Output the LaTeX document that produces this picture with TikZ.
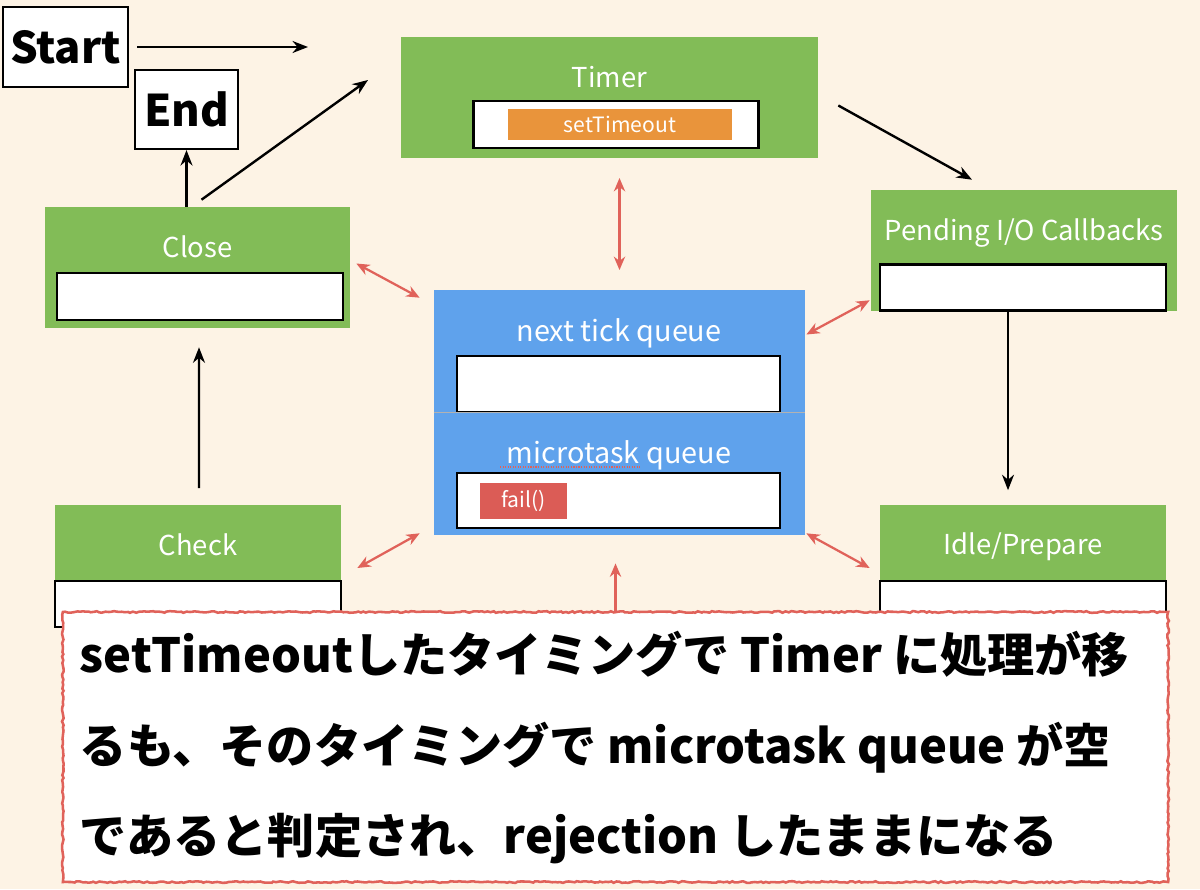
\documentclass[tikz,border=0pt]{standalone}
\usepackage{fontspec}
\setmainfont{Noto Sans CJK JP}
\usepackage{tikz}
\usetikzlibrary{arrows.meta,calc,decorations.pathmorphing}

\definecolor{cream}{HTML}{FDF3E5}
\definecolor{phasegreen}{HTML}{82BC57}
\definecolor{queueblue}{HTML}{5FA2EC}
\definecolor{taskorange}{HTML}{E9943B}
\definecolor{failred}{HTML}{DB5C56}
\definecolor{linkred}{HTML}{E0625A}

\begin{document}
\begin{tikzpicture}[x=0.025cm, y=-0.025cm, >={Stealth[length=11pt,width=8.5pt]},
  phase/.style={fill=phasegreen, minimum height=3.025cm, inner sep=0pt},
  queue/.style={fill=queueblue, minimum width=9.275cm, inner sep=0pt},
  slot/.style={draw=black, fill=white, line width=1.5pt, minimum width=7.15cm, minimum height=1.15cm, inner sep=0pt},
  lbl/.style={anchor=base, text=white, font=\fontsize{19.5}{22}\selectfont},
  job/.style={text=white, inner sep=0pt, font=\fontsize{15}{18}\selectfont},
  term/.style={draw=black, fill=white, line width=1.5pt, inner sep=0pt, font=\bfseries\fontsize{31}{36}\selectfont},
  flow/.style={->, line width=1.7pt},
  link/.style={{Stealth[length=9.5pt,width=8pt]}-{Stealth[length=9.5pt,width=8pt]}, draw=linkred, line width=1.6pt},
  say/.style={anchor=base west, font=\bfseries\fontsize{33.5}{40}\selectfont}]

\fill[cream] (0,0) rectangle (1200,889);

% start / end
\node[term, minimum width=3.125cm, minimum height=2cm] (start) at (65.5,47) {Start};
\node[term, minimum width=2.575cm, minimum height=1.975cm] (finish) at (186.5,109.5) {End};
\coordinate (loopin) at (308,47);
\coordinate (timerin) at (368,80);

% phases
\node[phase, minimum width=10.425cm] (timer) at (609.5,97.5) {};
\node[lbl] (timerlbl) at (609.5,87) {Timer};
\node[slot, minimum width=7.125cm, minimum height=1.175cm] (timerslot) at (616,124.5) {};
\node[job, fill=taskorange, minimum width=5.6cm, minimum height=0.775cm] (settimeout) at (620,124.5) {setTimeout};

\node[phase, minimum width=7.65cm] (pending) at (1024,250.5) {};
\node[lbl] (pendinglbl) at (1024,240) {Pending I/O Callbacks};
\node[slot] (pendingslot) at (1023,287.5) {};

\node[phase, minimum width=7.625cm] (close) at (197.5,267.5) {};
\node[lbl] (closelbl) at (197.5,257) {Close};
\node[slot, minimum height=1.175cm] (closeslot) at (200,296.5) {};

\node[phase, minimum width=7.15cm] (check) at (198,566) {};
\node[lbl] (checklbl) at (198,555) {Check};
\node[slot] (checkslot) at (198,604) {};

\node[phase, minimum width=7.15cm] (idle) at (1023,566) {};
\node[lbl] (idlelbl) at (1023,554) {Idle/Prepare};
\node[slot] (idleslot) at (1023,604) {};

% queues
\node[queue, minimum height=3.075cm] (next) at (619.5,351.5) {};
\node[lbl, font=\fontsize{20.5}{24}\selectfont] (nextlbl) at (619,341) {next tick queue};
\node[slot, minimum width=8.075cm, minimum height=1.4cm] (nextslot) at (618.5,384) {};

\node[queue, minimum height=3.05cm] (micro) at (619.5,474) {};
\node[lbl, font=\fontsize{20.5}{24}\selectfont] (microlbl) at (619,463) {microtask queue};
\node[slot, minimum width=8.075cm, minimum height=1.375cm] (microslot) at (618.5,500.5) {};
\node[job, fill=failred, minimum width=2.15cm, minimum height=0.9cm] (fail) at (523.5,501) {fail()};
\draw[gray!60, line width=0.6pt] (micro.north west) -- (micro.north east);
\draw[linkred, densely dotted, line width=0.8pt] (500,467) -- (640,467);

% loop
\draw[flow, shorten <=5.7pt] (start.east) -- (loopin);
\draw[flow] (close.north -| finish.south) -- (finish.south);
\draw[flow] ($(close.north)+(4,-7)$) -- (timerin);
\draw[flow] ($(timer.east)+(20,8)$) -- ($(pending.north)+(-52,-10)$);
\draw[flow] ($(pending.south)+(-16,0)$) -- ($(idle.north)+(-15,-15)$);
\draw[flow] ($(check.north)+(1,-17)$) -- ($(close.south)+(1.5,19)$);

\draw[link, shorten <=14pt, shorten >=14pt] (timer.south -| next.north) -- (next.north);
\draw[link] ($(close.east)+(6,-4)$) -- ($(next.north west)+(-14,8)$);
\draw[link] ($(next.east)+(1,-17)$) -- ($(pending.south west)+(-1,-11)$);
\draw[link] ($(check.east)+(16,2)$) -- ($(micro.south west)+(-14,-2)$);
\draw[link] ($(micro.south east)+(1,-2)$) -- ($(idle.west)+(-10,2)$);

% note
\node[draw=linkred, fill=white, line width=1.8pt, decorate,
      decoration={random steps, segment length=2pt, amplitude=0.6pt},
      minimum width=27.625cm, minimum height=6.75cm, inner sep=0pt] (note) at (615.5,747) {};
\draw[link, -{Stealth[length=9.5pt,width=8pt]}, shorten >=20pt] (note.north) -- (micro.south -| note.north);
\node[say] (line1) at (75,672) {setTimeoutしたタイミングで Timer に処理が移};
\node[say] (line2) at (75,763) {るも、そのタイミングで microtask queue が空};
\node[say] (line3) at (75,853) {であると判定され、rejection したままになる};
\end{tikzpicture}
\end{document}
